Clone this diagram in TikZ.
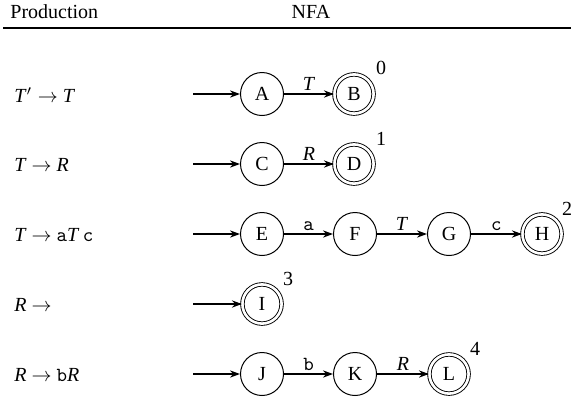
\documentclass[tikz,border=0pt]{standalone}
\usepackage{fontspec}
\setmainfont{Liberation Serif}
\usetikzlibrary{arrows.meta}
\begin{document}
\begin{tikzpicture}[x=0.5pt,y=-0.5pt,
  st/.style={circle,draw,line width=0.5pt,minimum size=21.5pt,inner sep=0pt,font=\normalsize},
  acc/.style={circle,draw,line width=0.45pt,double,double distance=1.3pt,minimum size=19.6pt,inner sep=0pt},
  tr/.style={-{Stealth[length=5pt,width=3.6pt]},line width=0.75pt},
  num/.style={font=\normalsize},
  lbl/.style={above,inner sep=1.5pt},
  prod/.style={anchor=west,inner sep=0pt}]
\useasboundingbox (0,0) rectangle (571,397);
% header
\node[anchor=west,inner sep=0pt] (hp) at (10,12) {Production};
\node[inner sep=0pt] (hn) at (311,12) {NFA};
\coordinate (r1) at (3,28);
\coordinate (r2) at (571,28);
\draw[line width=1.2pt] (r1) -- (r2);
% productions
\node[prod] (p0) at (14,95) {\textit{T}$'\rightarrow$ \textit{T}};
\node[prod] (p1) at (14,165) {\textit{T} $\rightarrow$ \textit{R}};
\node[prod] (p2) at (14,235) {\textit{T} $\rightarrow$ \texttt{a}\textit{T}\,\texttt{c}};
\node[prod] (p3) at (14,305) {\textit{R} $\rightarrow$};
\node[prod] (p4) at (14,375) {\textit{R} $\rightarrow$ \texttt{b}\textit{R}};
% row 0
\coordinate (s0) at (193,94);
\node[st] (A) at (262,94) {A};
\node[acc] (B) at (354,94) {B};
\node[num] (n0) at (381,68) {0};
\draw[tr] (s0) -- (A);
\draw[tr] (A) -- node[lbl]{\textit{T}} (B);
% row 1
\coordinate (s1) at (193,164);
\node[st] (C) at (262,164) {C};
\node[acc] (D) at (354,164) {D};
\node[num] (n1) at (381,139) {1};
\draw[tr] (s1) -- (C);
\draw[tr] (C) -- node[lbl]{\textit{R}} (D);
% row 2
\coordinate (s2) at (193,234);
\node[st] (E) at (262,234) {E};
\node[st] (F) at (355,234) {F};
\node[st] (G) at (449,234) {G};
\node[acc] (H) at (542,234) {H};
\node[num] (n2) at (567,209) {2};
\draw[tr] (s2) -- (E);
\draw[tr] (E) -- node[lbl]{\texttt{a}} (F);
\draw[tr] (F) -- node[lbl]{\textit{T}} (G);
\draw[tr] (G) -- node[lbl]{\texttt{c}} (H);
% row 3
\coordinate (s3) at (193,304);
\node[acc] (I) at (262,304) {I};
\node[num] (n3) at (288,279) {3};
\draw[tr] (s3) -- (I);
% row 4
\coordinate (s4) at (193,374);
\node[st] (J) at (262,374) {J};
\node[st] (K) at (355,374) {K};
\node[acc] (L) at (449,374) {L};
\node[num] (n4) at (475,349) {4};
\draw[tr] (s4) -- (J);
\draw[tr] (J) -- node[lbl]{\texttt{b}} (K);
\draw[tr] (K) -- node[lbl]{\textit{R}} (L);
\end{tikzpicture}
\end{document}
